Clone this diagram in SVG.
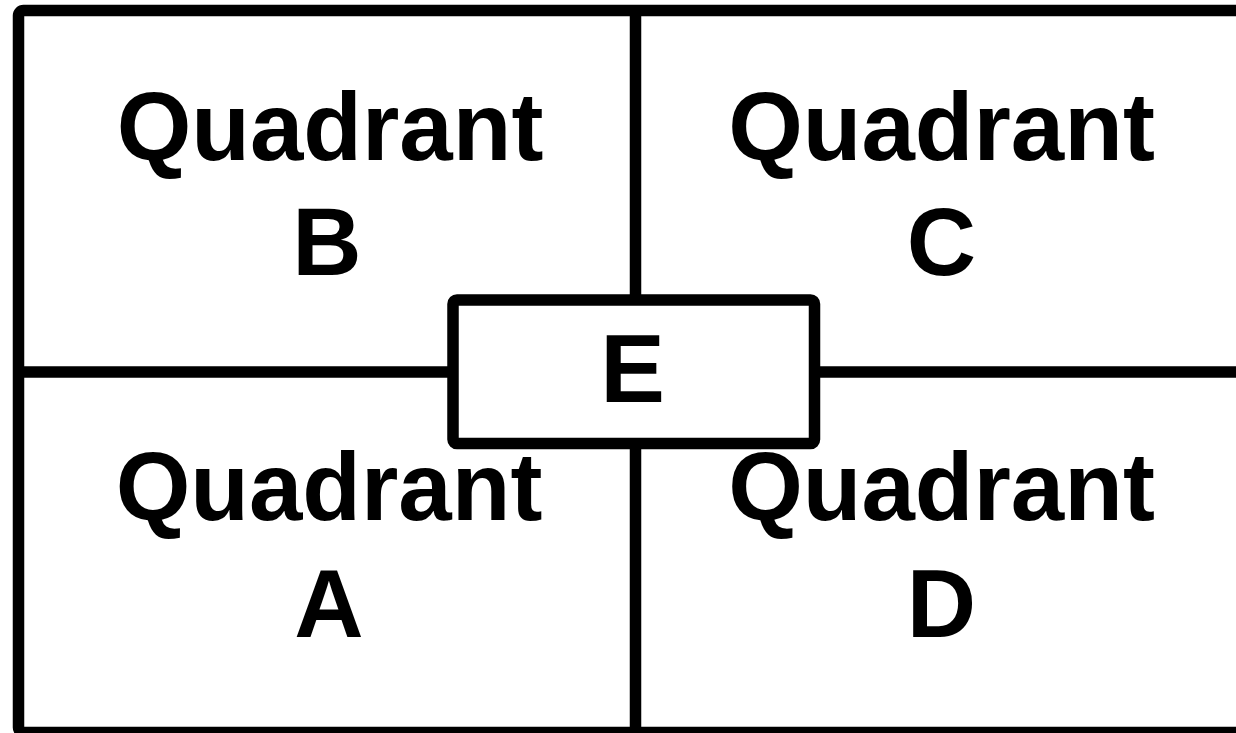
<svg xmlns="http://www.w3.org/2000/svg" width="1236" height="733" viewBox="0 0 1236 733">
<style>
.ln{stroke:#000;stroke-width:11.5;fill:none}
.t{font-family:"Liberation Sans",Arial,sans-serif;font-weight:bold;font-size:96px;fill:#000;text-anchor:middle}
</style>
<rect width="1236" height="733" fill="#fff"/>
<g id="connectors">
<rect class="ln" x="18.5" y="10.5" width="1229" height="722" rx="5"/>
<line class="ln" x1="635.5" y1="10.5" x2="635.5" y2="732.5"/>
<line class="ln" x1="18.5" y1="372" x2="1247.5" y2="372"/>
</g>
<g id="quadrantB"><text class="t" x="330" y="160">Quadrant</text><text class="t" x="327" y="275">B</text></g>
<g id="quadrantC"><text class="t" x="941.5" y="160">Quadrant</text><text class="t" x="941.5" y="275">C</text></g>
<g id="quadrantA"><text class="t" x="329" y="520">Quadrant</text><text class="t" x="329" y="637">A</text></g>
<g id="quadrantD"><text class="t" x="941.5" y="520">Quadrant</text><text class="t" x="941.5" y="637">D</text></g>
<g id="nodeE">
<rect class="ln" x="453" y="300" width="361.5" height="143.5" rx="4" fill="#fff" style="fill:#fff"/>
<text class="t" x="632.5" y="401.5" font-size="97" style="font-size:97px">E</text>
</g>
</svg>
